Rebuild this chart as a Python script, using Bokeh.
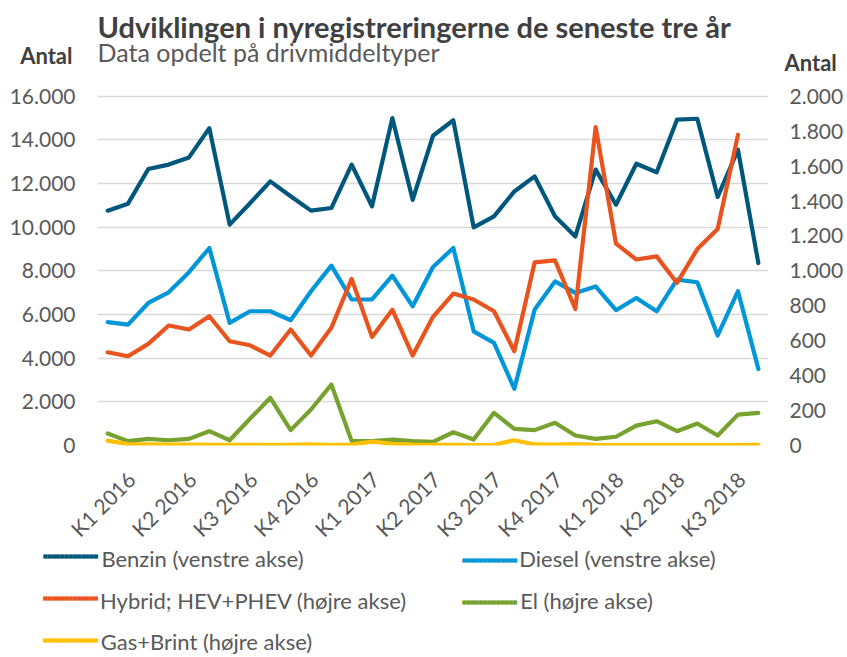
import math
from bokeh.plotting import figure
from bokeh.models import Range1d, LinearAxis, FixedTicker, Label
from bokeh.embed import file_html
from bokeh.resources import INLINE

# ---------------- data ----------------
months = list(range(33))  # Jan 2016 .. Sep 2018
quarter_start_months = [0, 3, 6, 9, 12, 15, 18, 21, 24, 27, 30]
quarter_labels = ["K1 2016", "K2 2016", "K3 2016", "K4 2016",
                  "K1 2017", "K2 2017", "K3 2017", "K4 2017",
                  "K1 2018", "K2 2018", "K3 2018"]

benzin = [10760, 11080, 12670, 12870, 13200, 14540, 10120, 11100, 12100, 11420,
          10760, 10880, 12870, 10960, 15000, 11260, 14190, 14900, 9995, 10500,
          11640, 12330, 10500, 9580, 12640, 11030, 12910, 12520, 14930, 14970,
          11390, 13550, 8360]
diesel = [5650, 5540, 6530, 7020, 7940, 9050, 5620, 6150, 6150, 5740,
          7070, 8240, 6690, 6690, 7780, 6380, 8180, 9050, 5230, 4700,
          2600, 6230, 7520, 6990, 7290, 6200, 6760, 6150, 7600, 7480,
          5040, 7070, 3510]
hybrid = [534, 511, 582, 687, 664, 740, 597, 574, 515, 664,
          515, 674, 954, 622, 778, 515, 737, 870, 836, 769,
          540, 1049, 1060, 782, 1824, 1156, 1065, 1083, 931, 1125,
          1240, 1780, float("nan")]
el = [69, 25, 38, 30, 38, 82, 30, 153, 273, 88,
      206, 349, 25, 25, 34, 25, 21, 76, 34, 187,
      95, 88, 130, 57, 38, 50, 114, 139, 82, 126,
      57, 177, 187]
gas = [28, 8, 6, 5, 5, 4, 4, 4, 3, 4,
       6, 3, 5, 22, 10, 5, 4, 4, 3, 4,
       30, 6, 5, 8, 4, 3, 3, 3, 3, 3,
       3, 3, 4]

left_ticks = [0, 2000, 4000, 6000, 8000, 10000, 12000, 14000, 16000]
left_labels = ["0", "2.000", "4.000", "6.000", "8.000", "10.000", "12.000", "14.000", "16.000"]
right_ticks = [0, 200, 400, 600, 800, 1000, 1200, 1400, 1600, 1800, 2000]
right_labels = ["0", "200", "400", "600", "800", "1.000", "1.200", "1.400", "1.600", "1.800", "2.000"]
left_max, right_max = 16000, 2000

series_names = ["Benzin (venstre akse)", "Diesel (venstre akse)",
                "Hybrid; HEV+PHEV (højre akse)", "El (højre akse)",
                "Gas+Brint (højre akse)"]
colors = ["#00577D", "#0096D9", "#E9531D", "#78A22F", "#FFC000"]

title_text = "Udviklingen i nyregistreringerne de seneste tre år"
subtitle_text = "Data opdelt på drivmiddeltyper"
axis_title = "Antal"

# ---------------- layout constants (page pixels) ----------------
W, H = 847, 657
FRAME_LEFT, FRAME_RIGHT, FRAME_BOTTOM = 97, 768, 446
CHART_H = 350                      # zero line to the top gridline
scale_up = FRAME_BOTTOM / CHART_H  # the frame runs from the canvas top to the zero line
LABEL_SHIFT = 1.15
XAXIS_STANDOFF = 30
S0_EST = XAXIS_STANDOFF + 76.5     # estimated height of the category-axis panel
FONT = "Lato"
SW_FONT_NAME = "DejaVu Sans Mono"
TXT = "#595959"
DARK = "#404040"
ANTAL_LEFT_Y, ANTAL_RIGHT_Y = 55.5, 62.5
TITLE_BASELINE, SUBTITLE_BASELINE = 27.0, 52.5

# legend
LEG_FONT = 22
H_T = 1.44 * LEG_FONT              # text box height used by the axis layout
VC_T = 0.64 * LEG_FONT             # visual centre below the label anchor
SW_FONT = 7
H_G = 1.2 * 1.164 * SW_FONT
SWATCH = "\u2580" * 13
LEG_ROWS = [557.0, 598.0, 639.0]
LEG_SW_RIGHT = [97.5, 516.5]
LEG_TEXT_X0 = [100, 518]
LEG_SLOTS = [(0, 0), (0, 1), (1, 0), (1, 1), (2, 0)]     # (row, col) per series
LEG_TEXT_W = [204, 198, 306, 136, 212]                    # estimated label widths

p = figure(width=W, height=H, x_range=Range1d(-0.5, 32.5),
           y_range=Range1d(0, left_max * scale_up),
           output_backend="svg", toolbar_location=None,
           min_border_left=FRAME_LEFT, min_border_right=W - FRAME_RIGHT,
           min_border_top=0, min_border_bottom=H - FRAME_BOTTOM)
p.title.text = ""
p.outline_line_color = None
p.extra_y_ranges = {"right": Range1d(0, right_max * scale_up)}
p.extra_x_ranges = {"px": Range1d(FRAME_LEFT, FRAME_RIGHT)}


def quiet(ax):
    ax.axis_line_color = None
    ax.major_tick_line_color = None
    ax.minor_tick_line_color = None
    ax.major_tick_out = 0
    ax.major_tick_in = 0
    ax.minor_tick_out = 0
    ax.minor_tick_in = 0


def style_labels(ax, size, bold=False, color=TXT, font=FONT):
    ax.major_label_text_font = font
    ax.major_label_text_font_size = size
    ax.major_label_text_color = color
    ax.major_label_text_font_style = "bold" if bold else "normal"


# ----- category axis -----
xa = p.xaxis[0]
quarter_ticks = [m + LABEL_SHIFT for m in quarter_start_months]
xa.ticker = FixedTicker(ticks=quarter_ticks)
xa.major_label_overrides = {t: l for t, l in zip(quarter_ticks, quarter_labels)}
xa.major_label_orientation = math.pi / 4
quiet(xa)
style_labels(xa, "21px")
xa.major_label_standoff = XAXIS_STANDOFF

# ----- left: "Antal" nearest the frame, value labels outside it -----
main_left = p.yaxis[0]
main_left.ticker = FixedTicker(ticks=left_ticks)
main_left.major_label_overrides = {t: l for t, l in zip(left_ticks, left_labels)}
quiet(main_left)
style_labels(main_left, "21px")
main_left.major_label_standoff = -58
antal_left_val = left_max * (FRAME_BOTTOM - ANTAL_LEFT_Y) / CHART_H
antal_left = LinearAxis(ticker=FixedTicker(ticks=[antal_left_val]))
antal_left.major_label_overrides = {antal_left_val: axis_title}
quiet(antal_left)
style_labels(antal_left, "22px", bold=True, color=DARK)
antal_left.major_label_standoff = 25
p.left = [antal_left, main_left]

# ----- right -----
main_right = LinearAxis(y_range_name="right", ticker=FixedTicker(ticks=right_ticks))
main_right.major_label_overrides = {t: l for t, l in zip(right_ticks, right_labels)}
quiet(main_right)
style_labels(main_right, "21px")
main_right.major_label_standoff = -50
antal_right_val = right_max * (FRAME_BOTTOM - ANTAL_RIGHT_Y) / CHART_H
antal_right = LinearAxis(y_range_name="right", ticker=FixedTicker(ticks=[antal_right_val]))
antal_right.major_label_overrides = {antal_right_val: axis_title}
quiet(antal_right)
style_labels(antal_right, "22px", bold=True, color=DARK)
antal_right.major_label_standoff = 16
p.right = [antal_right, main_right]

p.xgrid.grid_line_color = None
p.ygrid.grid_line_color = "#D9D9D9"
p.ygrid.grid_line_width = 1.4
p.ygrid.ticker = FixedTicker(ticks=left_ticks)

# ----- series -----
for vals, col, rng in [(benzin, colors[0], "default"), (diesel, colors[1], "default"),
                       (hybrid, colors[2], "right"), (el, colors[3], "right"),
                       (gas, colors[4], "right")]:
    p.line(months, vals, line_color=col, line_width=4.2, line_join="round",
           line_cap="round", y_range_name=rng)

# ----- title and subtitle (inside the frame, above the top gridline) -----
p.add_layout(Label(x=0, y=FRAME_BOTTOM - TITLE_BASELINE, x_units="screen", y_units="screen",
                   text=title_text, text_font=FONT, text_font_style="bold",
                   text_font_size="29px", text_color=DARK, text_baseline="alphabetic"))
p.add_layout(Label(x=0, y=FRAME_BOTTOM - SUBTITLE_BASELINE, x_units="screen", y_units="screen",
                   text=subtitle_text, text_font=FONT, text_font_size="25px",
                   text_color=TXT, text_baseline="alphabetic"))


# ----- legend: label-only axes stacked under the category axis -----
def label_axis(xs, texts, standoff, size, color=TXT, font=FONT, orientation="horizontal"):
    ax = LinearAxis(x_range_name="px", ticker=FixedTicker(ticks=list(xs)))
    ax.major_label_overrides = dict(zip(xs, texts))
    ax.major_label_orientation = orientation
    ax.bounds = (min(xs) - 1, max(xs) + 1)
    quiet(ax)
    style_labels(ax, f"{size}px", False, color, font)
    ax.major_label_standoff = int(standoff)
    p.add_layout(ax, "below")


edge = FRAME_BOTTOM + S0_EST
for r, row_y in enumerate(LEG_ROWS):
    members = [(i, cc) for i, (rr, cc) in enumerate(LEG_SLOTS) if rr == r]
    # swatches (right-aligned block runs), centred on the row
    for k, (i, cc) in enumerate(members):
        shift = -0.7 if k == 0 and len(members) > 1 else (0.7 if k > 0 else 0.0)
        anchor = row_y + 2.0 + shift
        st = max(round(anchor - edge), math.ceil(-H_G + 2.0))
        label_axis([LEG_SW_RIGHT[cc]], [SWATCH], st, SW_FONT, color=colors[i],
                   font=SW_FONT_NAME, orientation=1e-9)
        edge += st + H_G
    # row texts (centre-aligned, hanging)
    xs = [LEG_TEXT_X0[cc] + LEG_TEXT_W[i] / 2 for i, cc in members]
    texts = [series_names[i] for i, cc in members]
    anchor = row_y - 0.6 - VC_T
    st = max(round(anchor - edge), math.ceil(-H_T + 2.0))
    label_axis(xs, texts, st, LEG_FONT)
    edge += st + H_T

open("out.html", "w").write(file_html(p, INLINE))
